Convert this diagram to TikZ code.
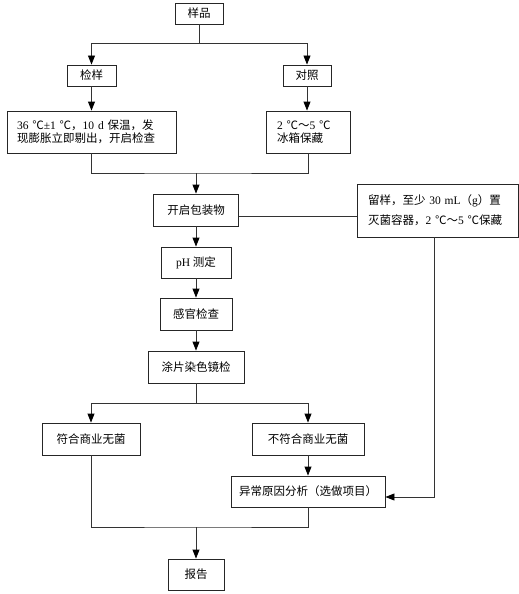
\documentclass[tikz,border=0pt]{standalone}
\usepackage{fontspec}
\setmainfont{Liberation Serif}
\newfontfamily\cjk{Noto Sans CJK SC}
\usetikzlibrary{arrows.meta}
\newcommand{\en}[1]{{\rmfamily #1}}
\tikzstyle{box} = [rectangle, 
minimum height=32pt, 
inner sep=0pt, 
text centered, 
draw=black!85, 
line width=0.9pt,
font=\cjk\fontsize{11.5}{13}\selectfont]
\tikzstyle{line} = [draw=black!80, line width=0.9pt]
\tikzstyle{arrow} = [line, -{Triangle[length=9pt,width=7pt,color=black]}]

\begin{document}
\begin{tikzpicture}[x=1pt, y=-1pt]
        \useasboundingbox (0,0) rectangle (519,594);
        \node (yp) [box, minimum width=48pt, minimum height=21pt] at (199,13.5) {样品};
        \node (jy) [box, minimum width=49pt, minimum height=21pt] at (91.5,75.5) {检样};
        \node (dz) [box, minimum width=48pt, minimum height=21pt] at (307,75.5) {对照};
        \node (bw) [box, text width=149pt, inner xsep=10pt, align=left, minimum height=42pt] at (91.5,132) {\en{36 }℃\en{±1 }℃，\en{10 d }保温，发\\现膨胀立即剔出，开启检查};
        \node (bc) [box, text width=62pt, inner xsep=11pt, align=left, minimum height=42pt] at (308,132) {\en{2 }℃～\en{5 }℃\\冰箱保藏};
        \node (kq) [box, minimum width=85pt] at (196,210) {开启包装物};
        \node (ly) [box, text width=139pt, inner xsep=11pt, align=left, minimum height=53pt, font=\cjk\fontsize{11.5}{20}\selectfont] at (437.5,210.5) {留样，至少\en{ 30 mL}（\en{g}）置\\灭菌容器，\en{2 }℃～\en{5 }℃保藏};
        \node (ph) [box, minimum width=70pt, minimum height=31pt] at (196,262.5) {\en{pH }测定};
        \node (gg) [box, minimum width=72pt] at (196,314) {感官检查};
        \node (tp) [box, minimum width=96pt] at (196,367) {涂片染色镜检};
        \node (fh) [box, minimum width=98pt] at (91,439) {符合商业无菌};
        \node (bfh) [box, minimum width=112pt] at (308,439) {不符合商业无菌};
        \node (yc) [box, minimum width=154pt, minimum height=31pt] at (308,491.5) {异常原因分析（选做项目）};
        \node (bg) [box, minimum width=56pt, minimum height=31pt] at (196,574.5) {报告};
        % connectors
        \coordinate (s1) at (199,43);
        \coordinate (m1) at (196,173);
        \coordinate (s2) at (300,216);
        \coordinate (s3) at (196,403);
        \coordinate (s4) at (434,497);
        \coordinate (m2) at (196,527);
        \draw [line] (yp.south) -- (s1);
        \draw [arrow] (s1) -| (jy.north);
        \draw [arrow] (s1) -| (dz.north);
        \draw [arrow] (jy.south) -- (bw.north);
        \draw [arrow] (dz.south) -- (dz.south |- bc.north);
        \draw [line] (bw.south) |- (m1) -| (bc.south);
        \draw [arrow] (m1) -- (kq.north);
        \draw [line] (kq.east |- s2) -- (ly.west |- s2);
        \draw [arrow] (kq.south) -- (ph.north);
        \draw [arrow] (ph.south) -- (gg.north);
        \draw [arrow] (gg.south) -- (tp.north);
        \draw [line] (tp.south) -- (s3);
        \draw [arrow] (s3) -| (fh.north);
        \draw [arrow] (s3) -| (bfh.north);
        \draw [arrow] (bfh.south) -- (yc.north);
        \draw [arrow] (ly.south -| s4) -- (s4) -- (yc.east |- s4);
        \draw [line] (fh.south) |- (m2) -| (yc.south);
        \draw [arrow] (m2) -- (bg.north);
    \end{tikzpicture}
\end{document}
